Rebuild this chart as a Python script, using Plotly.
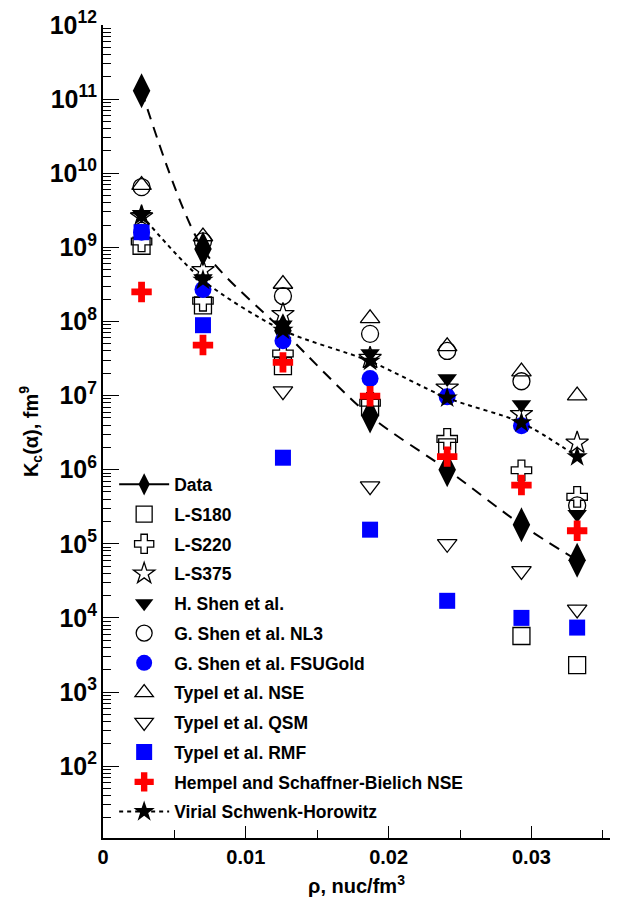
import plotly.graph_objects as go

rho = [0.0027, 0.0070, 0.0126, 0.0187, 0.0241, 0.0293, 0.0332]

data_k = [1.3e11, 9.5e8, 7.5e7, 5.3e6, 1.0e6, 1.8e5, 6.0e4]
ls180 = [1.05e9, 1.65e8, 2.5e7, 7.0e6, 2.0e6, 5.7e3, 2.3e3]
ls220 = [1.2e9, 1.9e8, 3.7e7, 8.0e6, 2.6e6, 9.8e5, 4.3e5]
ls375 = [2.6e9, 4.9e8, 1.25e8, 3.2e7, 1.27e7, 5.6e6, 2.3e6]
hshen = [2.8e9, 3.8e8, 9.0e7, 3.7e7, 1.7e7, 7.6e6, 2.5e5]
gshen_nl3 = [6.5e9, 1.2e9, 2.2e8, 6.8e7, 4.0e7, 1.56e7, 3.3e5]
gshen_fsu = [1.6e9, 2.7e8, 5.5e7, 1.7e7, 9.6e6, 3.9e6, None]
typel_nse = [6.9e9, 1.4e9, 3.2e8, 1.1e8, 4.6e7, 2.1e7, 1.0e7]
typel_qsm = [None, None, 1.15e7, 6.0e5, 1.0e5, 4.3e4, 1.3e4]
typel_rmf = [1.6e9, 8.9e7, 1.45e6, 1.55e5, 1.7e4, 1.0e4, 7.4e3]
hempel = [2.5e8, 4.8e7, 2.8e7, 9.8e6, 1.5e6, 6.2e5, 1.5e5]
virial = [2.7e9, 3.6e8, 7.6e7, 2.9e7, 9.3e6, 4.3e6, 1.5e6]

x_tickvals = [0, 0.01, 0.02, 0.03]
x_ticktext = ["0", "0.01", "0.02", "0.03"]

FONT = "Liberation Sans"
BLUE = "#0000ff"
RED = "#ff0000"

fig = go.Figure()

# Data: dashed curve + diamonds, legend entry with solid line
fig.add_trace(go.Scatter(x=rho, y=data_k, mode="lines", line=dict(color="black", width=2, dash="11px,8px", shape="spline", smoothing=0.8),
                         showlegend=False, hoverinfo="skip"))
fig.add_trace(go.Scatter(x=rho, y=data_k, mode="markers", name="Data", legendgroup="g0", showlegend=False,
                         marker=dict(symbol="diamond-tall", size=25, color="black")))
fig.add_trace(go.Scatter(x=[None], y=[None], mode="lines+markers", name="Data", legendgroup="g0",
                         line=dict(color="black", width=2),
                         marker=dict(symbol="diamond-tall", size=25, color="black")))

series = [
    ("L-S180", ls180, dict(symbol="square-open", size=17, color="black", line=dict(width=1.3))),
    ("L-S220", ls220, dict(symbol="cross-open", size=17, color="black", line=dict(width=1.3))),
    ("L-S375", ls375, dict(symbol="star-open", size=17, color="black", line=dict(width=1.3))),
    ("H. Shen et al.", hshen, dict(symbol="triangle-down", size=17, color="black")),
    ("G. Shen et al. NL3", gshen_nl3, dict(symbol="circle-open", size=17, color="black", line=dict(width=1.3))),
    ("G. Shen et al. FSUGold", gshen_fsu, dict(symbol="circle", size=17, color=BLUE)),
    ("Typel et al. NSE", typel_nse, dict(symbol="triangle-up-open", size=17, color="black", line=dict(width=1.3))),
    ("Typel et al. QSM", typel_qsm, dict(symbol="triangle-down-open", size=17, color="black", line=dict(width=1.3))),
    ("Typel et al. RMF", typel_rmf, dict(symbol="square", size=16, color=BLUE)),
    ("Hempel and Schaffner-Bielich NSE", hempel, dict(symbol="cross", size=17, color=RED)),
]
for i, (name, vals, mk) in enumerate(series):
    fig.add_trace(go.Scatter(x=rho, y=vals, mode="markers", name=name, legendgroup=f"g{i+1}", marker=mk))

fig.add_trace(go.Scatter(x=rho, y=virial, mode="lines+markers", name="Virial Schwenk-Horowitz", legendgroup="g99",
                         line=dict(color="black", width=2, dash="4px,4px", shape="spline", smoothing=0.8),
                         marker=dict(symbol="star", size=16, color="black")))

# page body adds ~8px offset; figure sized to fit the 624x920 window
fig.update_layout(
    width=616, height=912,
    margin=dict(l=95, r=14, t=17, b=82),
    paper_bgcolor="white", plot_bgcolor="white",
    font=dict(family=FONT, color="black"),
    showlegend=True,
    legend=dict(x=0.022, y=0.457, xanchor="left", yanchor="top", bgcolor="rgba(0,0,0,0)",
                font=dict(family=FONT, size=17.5, weight="bold"), itemwidth=50, tracegroupgap=4,
                traceorder="grouped"),
)
fig.update_xaxes(
    range=[0, 0.0355], tickvals=x_tickvals, ticktext=x_ticktext, automargin=False,
    ticklabeloverflow="allow",
    showline=True, linecolor="black", linewidth=2, mirror=False,
    ticks="inside", ticklen=12, tickwidth=1, tickcolor="black",
    minor=dict(ticks="inside", ticklen=8, tickvals=[0.005, 0.015, 0.025, 0.035], tickcolor="black", showgrid=False),
    showgrid=False, zeroline=False,
    tickfont=dict(family=FONT, size=20, weight="bold"),
    title=dict(text="ρ, nuc/fm<sup>3</sup>", font=dict(family=FONT, size=20, weight="bold"), standoff=12),
)
fig.update_yaxes(
    type="log", range=[1.03, 12.0], dtick=1, exponentformat="power", automargin=False,
    ticklabeloverflow="allow",
    showline=True, linecolor="black", linewidth=2, mirror=False,
    ticks="inside", ticklen=16, tickwidth=1, tickcolor="black",
    minor=dict(ticks="inside", ticklen=8, dtick="D1", tickcolor="black", showgrid=False),
    showgrid=False, zeroline=False,
    tickfont=dict(family=FONT, size=20, weight="bold"),
    title=dict(text="K<sub>c</sub>(α), fm<sup>9</sup>", font=dict(family=FONT, size=20, weight="bold"), standoff=6),
)

fig.write_html("out.html")
